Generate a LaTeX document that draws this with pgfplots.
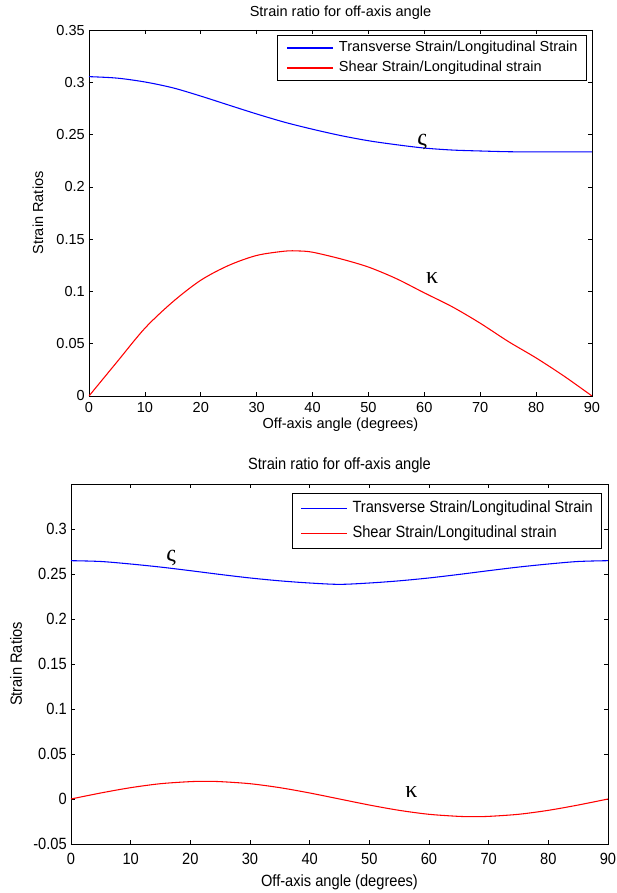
\documentclass[border=0pt]{standalone}
\usepackage{fontspec}
\setmainfont{Liberation Sans}
\newfontfamily\condensed[FakeStretch=0.9]{Liberation Sans}
\newfontfamily\greekfont{Liberation Serif}
\usepackage{pgfplots}
\pgfplotsset{compat=1.18}
\begin{document}
\begin{tikzpicture}
\useasboundingbox (0,0) rectangle (462.75pt,669.75pt);
\pgfplotsset{
  mystyle/.style={
    scale only axis, anchor=south west,
    xmin=0, xmax=90, xtick={0,10,...,90},
    tick align=inside, major tick length=3pt,
    axis line style={line width=0.6pt},
    every tick/.style={black, line width=0.5pt},
    every axis title shift=0pt,
    /pgf/number format/assume math mode=true,
    /pgf/number format/fixed, /pgf/number format/precision=2,
    scaled y ticks=false, scaled x ticks=false,
    yticklabel style={inner sep=3pt},
    legend cell align=left,
    legend image code/.code={\draw[#1] (0pt,0pt) -- (34.5pt,0pt);},
  }
}
% ---------------- bottom panel ----------------
\begin{axis}[mystyle,
  at={(53.25pt,36.75pt)}, width=402.75pt, height=270pt,
  ymin=-0.05, ymax=0.35, ytick={-0.05,0,0.05,0.1,0.15,0.2,0.25,0.3},
  font=\condensed\fontsize{12.2}{14}\selectfont,
  xticklabel style={yshift=-3pt},
  title={Strain ratio for off-axis angle},
  title style={at={(axis description cs:0.5,1.0528)}, anchor=center, yshift=0pt},
  xlabel={Off-axis angle (degrees)},
  xlabel style={at={(axis description cs:0.5,-0.1056)}, anchor=center},
  ylabel={Strain Ratios},
  ylabel style={at={(axis description cs:-0.1024,0.5)}, anchor=center},
  legend style={at={(0.9877,0.975)}, anchor=north east, draw=black, line width=0.6pt,
    inner xsep=6.1pt, inner ysep=5.6pt, row sep=7.45pt, column sep=3.5pt,
    nodes={inner sep=0pt, text height=8.8pt, text depth=2.5pt},
    font=\condensed\fontsize{12.2}{14}\selectfont},
]
\addlegendimage{draw=blue, line width=0.8pt}
\addlegendentry{Transverse Strain/Longitudinal Strain}
\addlegendimage{draw=red, line width=0.8pt}
\addlegendentry{Shear Strain/Longitudinal strain}
\addplot[color=blue, line width=0.8pt, smooth, forget plot] coordinates {
(0,0.2648) (5,0.2639) (10,0.2611) (15,0.2577) (20,0.2537) (25,0.2495)
(30,0.2456) (35,0.2424) (40,0.2400) (45,0.2385) (50,0.2400) (55,0.2424)
(60,0.2456) (65,0.2495) (70,0.2537) (75,0.2577) (80,0.2611) (85,0.2639) (90,0.2648)};
\addplot[color=red, line width=0.8pt, smooth, forget plot] coordinates {
(0,0) (5,0.0067) (10,0.0126) (15,0.0170) (20,0.0193) (22.5,0.0196) (25,0.0193)
(30,0.0170) (35,0.0126) (40,0.0067) (45,0) (50,-0.0067) (55,-0.0126)
(60,-0.0170) (65,-0.0193) (67.5,-0.0196) (70,-0.0193) (75,-0.0170)
(80,-0.0126) (85,-0.0067) (90,0)};
\node[font=\greekfont\fontsize{18}{18}\selectfont] at (axis cs:16.8,0.2678) {ς};
\node[font=\greekfont\fontsize{18}{18}\selectfont] at (axis cs:57.05,0.0074) {κ};
\end{axis}
% ---------------- top panel ----------------
\begin{axis}[mystyle,
  at={(66.75pt,372.75pt)}, width=377.25pt, height=274.5pt,
  ymin=0, ymax=0.35, ytick={0,0.05,...,0.35},
  font=\fontsize{10.9}{13}\selectfont,
  xticklabel style={yshift=-1.5pt},
  title={Strain ratio for off-axis angle},
  title style={at={(axis description cs:0.5,1.0464)}, anchor=center, yshift=0pt},
  xlabel={Off-axis angle (degrees)},
  xlabel style={at={(axis description cs:0.5,-0.078)}, anchor=center},
  ylabel={Strain Ratios},
  ylabel style={at={(axis description cs:-0.1014,0.5)}, anchor=center},
  legend style={at={(0.990,0.9863)}, anchor=north east, draw=black, line width=0.6pt,
    inner xsep=6.75pt, inner ysep=4.2pt, row sep=4.7pt, column sep=3.75pt,
    nodes={inner sep=0pt, text height=8pt, text depth=2.3pt},
    font=\fontsize{10.9}{13}\selectfont},
]
\addlegendimage{draw=blue, line width=1pt}
\addlegendentry{Transverse Strain/Longitudinal Strain}
\addlegendimage{draw=red, line width=1pt}
\addlegendentry{Shear Strain/Longitudinal strain}
\addplot[color=blue, line width=0.8pt, smooth, forget plot] coordinates {
(0,0.3054) (5,0.3040) (10,0.3003) (15,0.2947) (20,0.2868) (25,0.2782)
(30,0.2697) (35,0.2618) (40,0.2551) (45,0.2491) (50,0.2441) (55,0.2403)
(60,0.2371) (65,0.2352) (70,0.2343) (75,0.2336) (80,0.2334) (85,0.2334) (90,0.2334)};
\addplot[color=red, line width=0.8pt, smooth, forget plot] coordinates {
(0,0) (5,0.0325) (10,0.0648) (15,0.0901) (20,0.1107) (25,0.1249)
(30,0.1344) (35,0.1385) (37.5,0.1387) (40,0.1375) (45,0.1312) (50,0.1233)
(55,0.1122) (60,0.0986) (65,0.0853) (70,0.0696) (75,0.0522) (80,0.0364)
(85,0.0190) (90,0)};
\node[font=\greekfont\fontsize{18}{18}\selectfont] at (axis cs:59.6,0.2434) {ς};
\node[font=\greekfont\fontsize{18}{18}\selectfont] at (axis cs:61.4,0.1132) {κ};
\end{axis}
\end{tikzpicture}
\end{document}
